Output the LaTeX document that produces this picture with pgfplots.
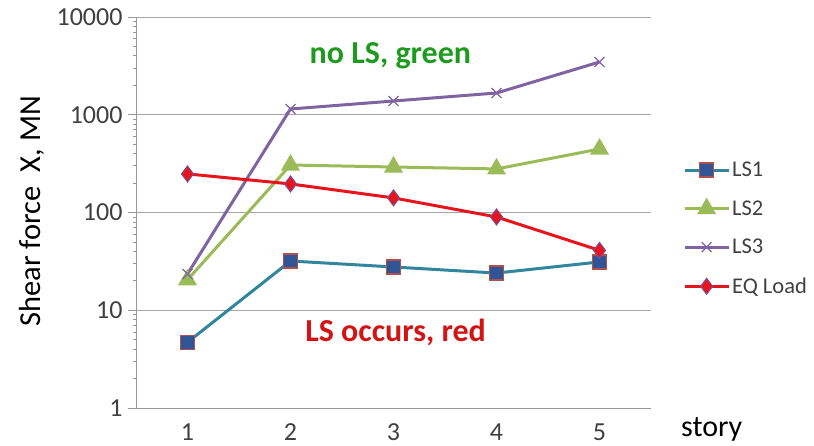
\documentclass[border=0pt]{standalone}
\usepackage{pgfplots}
\pgfplotsset{compat=1.18}
\usepackage{fontspec}
\setmainfont{Carlito}
\newcommand\tf{\fontsize{26}{28}\selectfont}
\newcommand\lf{\fontsize{22.5}{24}\selectfont}
\definecolor{ls1}{HTML}{31859C}
\definecolor{ls1f}{HTML}{2F5597}
\definecolor{ls1e}{HTML}{B0504D}
\definecolor{ls2}{HTML}{9BBB59}
\definecolor{ls3}{HTML}{8064A2}
\definecolor{eq}{HTML}{E8141C}
\definecolor{eqe}{HTML}{7A4F9A}
\definecolor{txtgreen}{HTML}{1E9A1E}
\definecolor{txtred}{HTML}{D21414}
\definecolor{tickgray}{HTML}{404040}
\begin{document}
\begin{tikzpicture}
\begin{axis}[
  name=ax,
  scale only axis, width=515pt, height=391pt,
  xmin=0.5, xmax=5.5, ymode=log, ymin=1, ymax=10000,
  xtick={1,2,3,4,5},
  xticklabels={{\tf 1},{\tf 2},{\tf 3},{\tf 4},{\tf 5}},
  ytick={1,10,100,1000,10000},
  yticklabels={{\tf 1},{\tf 10},{\tf 100},{\tf 1000},{\tf 10000}},
  axis lines=left, axis line style={-, draw=gray!80},
  ymajorgrids, grid style={gray!70, line width=0.8pt},
  tick align=outside,
  xtick style={draw=none},
  ytick style={draw=gray!80, line width=0.8pt},
  major tick length=8pt,
  extra x ticks={0.5,1.5,2.5,3.5,4.5,5.5},
  extra x tick labels={},
  extra x tick style={tick style={draw=gray!80, line width=0.8pt}, major tick length=6pt},
  tick label style={text=tickgray},
  xticklabel style={yshift=-4pt},
  yticklabel style={xshift=-2pt},
  /pgf/number format/assume math mode=true,
  clip=false,
  legend style={at={(1.062,0.64)}, anchor=north west, draw=none, fill=none,
    text=tickgray, row sep=18.5pt,
    inner xsep=0pt, legend cell align=left,
    /tikz/every even column/.append style={column sep=2pt}},
  legend image code/.code={
    \draw[#1, mark repeat=2, mark phase=2] plot coordinates {(0pt,0pt) (22pt,0pt) (44pt,0pt)};
  },
]
\addplot[ls1, line width=3pt, mark=square*, mark size=7pt,
  mark options={fill=ls1f, draw=ls1e, line width=1.2pt}]
  coordinates {(1,4.7) (2,31.9) (3,27.7) (4,24) (5,31.2)};
\addlegendentry{\lf LS1}
\addplot[ls2, line width=3pt, mark=triangle*, mark size=8pt,
  mark options={fill=ls2, draw=ls2}]
  coordinates {(1,20.5) (2,306) (3,292) (4,279) (5,446)};
\addlegendentry{\lf LS2}
\addplot[ls3, line width=3pt, mark=x, mark size=7pt,
  mark options={draw=ls3, line width=1.2pt}]
  coordinates {(1,23.5) (2,1145) (3,1382) (4,1668) (5,3465)};
\addlegendentry{\lf LS3}
\addplot[eq, line width=3pt, mark=diamond*, mark size=8pt,
  mark options={fill=eq, draw=eqe, line width=1pt}]
  coordinates {(1,248) (2,196) (3,141) (4,90) (5,41)};
\addlegendentry{\lf EQ Load}
\node[text=txtgreen, font=\bfseries\fontsize{32}{33}\selectfont] at (axis cs:2.97,4050) {no LS, green};
\node[text=txtred, font=\bfseries\fontsize{32}{33}\selectfont] at (axis cs:3.02,5.9) {LS occurs, red};
\node[text=black, font=\fontsize{30}{32}\selectfont, inner sep=0pt] at (rel axis cs:1.118,-0.056) {story};
\node[text=black, rotate=90, font=\fontsize{30.5}{33}\selectfont] at (rel axis cs:-0.202,0.503) {Shear force\ \ X, MN};
\end{axis}
\pgfresetboundingbox
\path (ax.south west) ++(-136pt,-38pt) rectangle ++(814pt,446pt);
\end{tikzpicture}
\end{document}
